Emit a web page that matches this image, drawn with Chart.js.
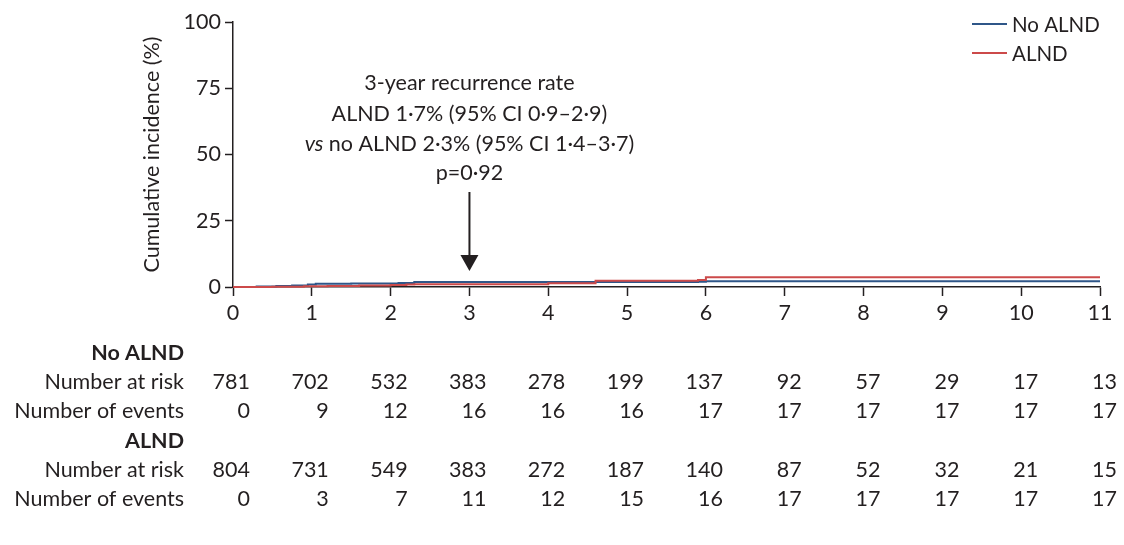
<!DOCTYPE html>
<html>
<head>
<meta charset="utf-8">
<script src="https://cdn.jsdelivr.net/npm/chart.js@4/dist/chart.umd.min.js"></script>
<style>
	html, body { margin: 0; padding: 0; background: #ffffff; }
	#wrap { width: 1124px; height: 545px; position: relative; }
</style>
</head>
<body>
<div id="wrap"><canvas id="kmChart" width="1124" height="545"></canvas></div>
<script>
// years on the x axis
var years = [0, 1, 2, 3, 4, 5, 6, 7, 8, 9, 10, 11];
var yTicks = [0, 25, 50, 75, 100];

// cumulative incidence curves (step points)
var noAlndTimes = [0, 0.3, 0.55, 0.75, 0.95, 1.05, 1.5, 2.1, 2.3, 5.9, 6.0, 11];
var noAlndValues = [0, 0.2, 0.4, 0.6, 0.9, 1.2, 1.3, 1.5, 1.9, 2.0, 2.2, 2.2];
var alndTimes = [0, 0.5, 0.9, 1.2, 1.6, 2.0, 2.2, 2.3, 4.0, 4.6, 5.9, 6.0, 11];
var alndValues = [0, 0.1, 0.3, 0.4, 0.6, 0.8, 0.9, 1.0, 1.4, 2.4, 2.6, 3.7, 3.7];

// table under the plot
var noAlndAtRisk = [781, 702, 532, 383, 278, 199, 137, 92, 57, 29, 17, 13];
var noAlndEvents = [0, 9, 12, 16, 16, 16, 17, 17, 17, 17, 17, 17];
var alndAtRisk = [804, 731, 549, 383, 272, 187, 140, 87, 52, 32, 21, 15];
var alndEvents = [0, 3, 7, 11, 12, 15, 16, 17, 17, 17, 17, 17];

var seriesNames = ["No ALND", "ALND"];
var seriesColors = ["#2f5688", "#cc4a4a"];

var ink = "#231f20";
var fontFamily = "Lato, 'Open Sans', sans-serif";
var fs = 21.5;

function toPoints(times, values) {
	var pts = [];
	for (var i = 0; i < times.length; i++) {
		pts.push({ x: times[i], y: values[i] });
	}
	return pts;
}

// draws annotation, arrow, legend and the numbers-at-risk table
var extrasPlugin = {
	id: "extras",
	afterDraw: function (chart) {
		var ctx = chart.ctx;
		var xs = chart.scales.x;
		var ys = chart.scales.y;
		var plain = fs + "px " + fontFamily;
		ctx.save();
		ctx.fillStyle = ink;
		ctx.strokeStyle = ink;
		ctx.textBaseline = "alphabetic";

		// annotation text
		var cx = xs.getPixelForValue(3);
		ctx.font = plain;
		ctx.textAlign = "center";
		ctx.fillText("3-year recurrence rate", cx, 90);
		ctx.fillText("ALND 1\u00b77% (95% CI 0\u00b79\u20132\u00b79)", cx, 121);
		// third line has italic "vs"
		var vsPart = "vs";
		var restPart = " no ALND 2\u00b73% (95% CI 1\u00b74\u20133\u00b77)";
		ctx.font = "italic " + plain;
		var w1 = ctx.measureText(vsPart).width;
		ctx.font = plain;
		var w2 = ctx.measureText(restPart).width;
		var startX = cx - (w1 + w2) / 2;
		ctx.textAlign = "left";
		ctx.font = "italic " + plain;
		ctx.fillText(vsPart, startX, 151);
		ctx.font = plain;
		ctx.fillText(restPart, startX + w1, 151);
		ctx.textAlign = "center";
		ctx.fillText("p=0\u00b792", cx, 180);

		// arrow pointing at 3 years
		var tipY = ys.getPixelForValue(6);
		ctx.lineWidth = 2;
		ctx.beginPath();
		ctx.moveTo(cx, 192);
		ctx.lineTo(cx, tipY - 14);
		ctx.stroke();
		ctx.beginPath();
		ctx.moveTo(cx - 9, tipY - 16);
		ctx.lineTo(cx + 9, tipY - 16);
		ctx.lineTo(cx, tipY);
		ctx.closePath();
		ctx.fill();

		// legend
		ctx.font = "20.5px " + fontFamily;
		ctx.textAlign = "left";
		ctx.textBaseline = "middle";
		for (var s = 0; s < seriesNames.length; s++) {
			var ly = 24 + s * 29;
			ctx.strokeStyle = seriesColors[s];
			ctx.lineWidth = 2;
			ctx.beginPath();
			ctx.moveTo(972, ly);
			ctx.lineTo(1007, ly);
			ctx.stroke();
			ctx.fillStyle = ink;
			ctx.fillText(seriesNames[s], 1012, ly + 1);
		}

		// numbers at risk table
		var rows = [
			{ label: "No ALND", bold: true, y: 353 },
			{ label: "Number at risk", values: noAlndAtRisk, y: 382 },
			{ label: "Number of events", values: noAlndEvents, y: 411 },
			{ label: "ALND", bold: true, y: 441 },
			{ label: "Number at risk", values: alndAtRisk, y: 470 },
			{ label: "Number of events", values: alndEvents, y: 499 }
		];
		ctx.fillStyle = ink;
		ctx.textAlign = "right";
		rows.forEach(function (row) {
			ctx.font = (row.bold ? "bold " : "") + plain;
			ctx.fillText(row.label, 184, row.y);
			if (row.values) {
				ctx.font = plain;
				row.values.forEach(function (v, i) {
					ctx.fillText(String(v), xs.getPixelForValue(years[i]) + 17, row.y);
				});
			}
		});
		ctx.restore();
	}
};

var chartConfig = {
	type: "line",
	data: {
		datasets: [
			{
				label: seriesNames[0],
				data: toPoints(noAlndTimes, noAlndValues),
				borderColor: seriesColors[0],
				borderWidth: 2,
				pointRadius: 0,
				stepped: true,
				clip: 4,
				order: 1
			},
			{
				label: seriesNames[1],
				data: toPoints(alndTimes, alndValues),
				borderColor: seriesColors[1],
				borderWidth: 2,
				pointRadius: 0,
				stepped: true,
				clip: 4,
				order: 0
			}
		]
	},
	options: {
		responsive: false,
		animation: false,
		layout: { padding: { left: 136, top: 22, right: 24, bottom: 0 } },
		plugins: {
			legend: { display: false },
			tooltip: { enabled: false }
		},
		scales: {
			x: {
				type: "linear",
				min: years[0],
				max: years[years.length - 1],
				afterBuildTicks: function (scale) {
					scale.ticks = years.map(function (v) { return { value: v }; });
				},
				afterFit: function (scale) { scale.height = 258; },
				grid: { drawOnChartArea: false, drawTicks: true, tickLength: 9, color: ink, tickWidth: 1.5 },
				border: { display: true, color: ink, width: 1.5 },
				ticks: { color: ink, padding: 4, maxRotation: 0, font: { family: fontFamily, size: fs } }
			},
			y: {
				min: 0,
				max: 100,
				afterBuildTicks: function (scale) {
					scale.ticks = yTicks.map(function (v) { return { value: v }; });
				},
				afterFit: function (scale) { scale.width = 97; },
				grid: { drawOnChartArea: false, drawTicks: true, tickLength: 8, color: ink, tickWidth: 1.5 },
				border: { display: true, color: ink, width: 1.5 },
				ticks: { color: ink, padding: 4, font: { family: fontFamily, size: fs } },
				title: {
					display: true,
					text: "Cumulative incidence (%)",
					color: ink,
					padding: { top: 3, bottom: 4 },
					font: { family: fontFamily, size: fs }
				}
			}
		}
	},
	plugins: [extrasPlugin]
};

new Chart(document.getElementById("kmChart").getContext("2d"), chartConfig);
</script>
</body>
</html>
